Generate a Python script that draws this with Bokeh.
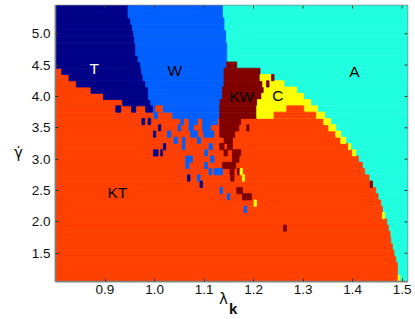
from bokeh.plotting import figure
from bokeh.models import Range1d, FixedTicker, Label, ColumnDataSource, PrintfTickFormatter
from bokeh.core.properties import value
from bokeh.embed import file_html
from bokeh.resources import INLINE

# ---------------- axes ----------------
LAM_MIN, LAM_MAX = 0.80, 1.511
GAM_MIN, GAM_MAX = 1.05, 5.45
x_ticks = [0.9, 1.0, 1.1, 1.2, 1.3, 1.4, 1.5]
y_ticks = [1.5, 2.0, 2.5, 3.0, 3.5, 4.0, 4.5, 5.0]

# ---------------- phases ----------------
phase_colors = {
    "KT": "#FF4000",
    "T": "#000088",
    "W": "#0060FF",
    "KW": "#800000",
    "C": "#FFFF00",
    "A": "#20FFDF",
}

# Each phase region: rows of gamma (cell centres) with the lambda span of the phase in that row
T_gamma = [5.4, 5.3, 5.2, 5.1, 5.0, 4.9, 4.8, 4.7, 4.6, 4.5, 4.4, 4.3, 4.2, 4.1, 4.0, 3.9]
T_lo = [0.80, 0.80, 0.80, 0.80, 0.80, 0.80, 0.80, 0.80, 0.80, 0.80,
        0.8125, 0.8273, 0.8422, 0.8717, 0.8968, 0.9352]
T_hi = [0.9465, 0.9465, 0.9519, 0.9554, 0.9580, 0.9600, 0.9620, 0.9620, 0.9667, 0.9721,
        0.9741, 0.9768, 0.9822, 0.9877, 0.9877, 0.9923]

W_gamma = [5.4, 5.3, 5.2, 5.1, 5.0, 4.9, 4.8, 4.7, 4.6, 4.5, 4.4, 4.3, 4.2, 4.1, 4.0, 3.9, 3.8, 3.7]
W_lo = [0.9465, 0.9465, 0.9519, 0.9554, 0.9580, 0.9600, 0.9620, 0.9620, 0.9667, 0.9721,
        0.9741, 0.9768, 0.9822, 0.9877, 0.9877, 0.9923, 0.9964, 1.0368]
W_hi = [1.1372, 1.1372, 1.1404, 1.1404, 1.1438, 1.1438, 1.1459, 1.1459, 1.1459, 1.1459,
        1.1404, 1.1404, 1.1404, 1.1372, 1.1372, 1.1323, 1.1317, 1.1317]

KW_gamma = [4.5, 4.4, 4.3, 4.2, 4.1, 4.0, 3.9, 3.8, 3.7]
KW_lo = [1.1459, 1.1404, 1.1404, 1.1404, 1.1372, 1.1372, 1.1323, 1.1317, 1.1317]
KW_hi = [1.1661, 1.2131, 1.2131, 1.2186, 1.2212, 1.2166, 1.2079, 1.2065, 1.2065]

C_gamma = [4.3, 4.2, 4.1, 4.0, 3.9, 3.8, 3.7, 3.6, 3.5, 3.4, 3.3, 3.2, 3.1, 2.1, 1.1]
C_lo = [1.2131, 1.2186, 1.2212, 1.2166, 1.2079, 1.2065, 1.2065,
        1.3418, 1.3519, 1.3661, 1.3762, 1.3917, 1.3998, 1.4604, 1.4919]
C_hi = [1.2362, 1.2616, 1.2873, 1.3008, 1.3156, 1.3291, 1.3438,
        1.3560, 1.3661, 1.3762, 1.3863, 1.3964, 1.4065, 1.4650, 1.4954]

KT_gamma = [4.4, 4.3, 4.2, 4.1, 4.0, 3.9, 3.8, 3.7, 3.6, 3.5, 3.4, 3.3, 3.2, 3.1, 3.0,
            2.9, 2.8, 2.7, 2.6, 2.5, 2.4, 2.3, 2.2, 2.1, 2.0, 1.9, 1.8, 1.7, 1.6, 1.5,
            1.4, 1.3, 1.2, 1.1]
KT_hi = [0.8125, 0.8273, 0.8422, 0.8717, 0.8968, 0.9352, 0.9964, 1.0368, 1.3418, 1.3519,
         1.3661, 1.3762, 1.3917, 1.3998, 1.4119, 1.4200, 1.4246, 1.4333, 1.4402, 1.4469,
         1.4515, 1.4570, 1.4604, 1.4604, 1.4691, 1.4725, 1.4758, 1.4772, 1.4806, 1.4838,
         1.4873, 1.4907, 1.4907, 1.4919]
KT_lo = [LAM_MIN] * len(KT_gamma)

A_gamma = [5.4, 5.3, 5.2, 5.1, 5.0, 4.9, 4.8, 4.7, 4.6, 4.5, 4.4, 4.3, 4.2, 4.1, 4.0,
           3.9, 3.8, 3.7, 3.6, 3.5, 3.4, 3.3, 3.2, 3.1, 3.0, 2.9, 2.8, 2.7, 2.6, 2.5,
           2.4, 2.3, 2.2, 2.1, 2.0, 1.9, 1.8, 1.7, 1.6, 1.5, 1.4, 1.3, 1.2, 1.1]
A_lo = [1.1372, 1.1372, 1.1404, 1.1404, 1.1438, 1.1438, 1.1459, 1.1459, 1.1459, 1.1661,
        1.2131, 1.2414, 1.2616, 1.2873, 1.3008, 1.3156, 1.3291, 1.3438, 1.3560, 1.3661,
        1.3762, 1.3863, 1.3964, 1.4065, 1.4119, 1.4200, 1.4246, 1.4333, 1.4402, 1.4469,
        1.4515, 1.4570, 1.4604, 1.4650, 1.4691, 1.4725, 1.4758, 1.4772, 1.4806, 1.4838,
        1.4873, 1.4907, 1.4907, 1.4954]
A_hi = [LAM_MAX] * len(A_gamma)

# Isolated cells (gamma row, lambda span, phase)
cell_gamma = [4.3, 4.2,
              3.8, 3.8, 3.8, 3.8, 3.8,
              3.7, 3.7,
              3.6, 3.6, 3.6, 3.6, 3.6, 3.6,
              3.5, 3.5, 3.5, 3.5, 3.5, 3.5,
              3.4, 3.4, 3.4, 3.4, 3.4,
              3.3, 3.3, 3.3, 3.3,
              3.2, 3.2, 3.2, 3.2, 3.2,
              3.1, 3.1, 3.1, 3.1, 3.1,
              3.0, 3.0, 3.0,
              2.9, 2.9, 2.9,
              2.8, 2.8, 2.8, 2.8, 2.8,
              2.7, 2.7, 2.7, 2.7,
              2.6, 2.6,
              2.5, 2.5,
              2.4, 2.4,
              2.3, 2.2, 1.9]
cell_lo = [1.2362, 1.2261,
           0.9218, 0.9539, 0.9822, 1.0024, 1.2671,
           0.9990, 1.2414,
           0.9745, 0.9869, 1.0529, 1.0697, 1.0968, 1.1317,
           1.0079, 1.0475, 1.0697, 1.0968, 1.1317, 1.1863,
           0.9978, 1.0261, 1.0731, 1.0994, 1.1317,
           1.0394, 1.0564, 1.0867, 1.1404,
           1.0180, 1.0564, 1.1101, 1.1317, 1.1473,
           0.9978, 1.0125, 1.1014, 1.1404, 1.1574,
           1.0630, 1.1135, 1.1574,
           1.0630, 1.1014, 1.1372,
           1.1101, 1.1202, 1.1525, 1.1675, 1.1727,
           1.0665, 1.0867, 1.1539, 1.1776,
           1.0919, 1.4355,
           1.1323, 1.1661,
           1.1473, 1.1776,
           1.2010, 1.1808, 1.2604]
cell_hi = [1.2414, 1.2313,
           0.9319, 0.9620, 0.9958, 1.0160, 1.3014,
           1.0059, 1.3257,
           0.9800, 0.9923, 1.0584, 1.0867, 1.1271, 1.1741,
           1.0125, 1.0529, 1.0790, 1.1135, 1.1701, 1.1909,
           1.0024, 1.0327, 1.0867, 1.1196, 1.1620,
           1.0463, 1.0616, 1.0933, 1.1574,
           1.0226, 1.0616, 1.1170, 1.1404, 1.1574,
           1.0071, 1.0160, 1.1069, 1.1473, 1.1741,
           1.0766, 1.1202, 1.1707,
           1.0697, 1.1069, 1.1640,
           1.1156, 1.1372, 1.1606, 1.1727, 1.1776,
           1.0717, 1.0919, 1.1606, 1.1816,
           1.0968, 1.4402,
           1.1372, 1.1776,
           1.1519, 1.1958,
           1.2059, 1.1863, 1.2665]
cell_phase = ["KW", "KW",
              "T", "T", "T", "KT", "KT",
              "W", "KT",
              "T", "T", "W", "W", "W", "KW",
              "T", "W", "W", "W", "KW", "KW",
              "T", "W", "W", "W", "KW",
              "W", "W", "W", "KW",
              "T", "W", "W", "KW", "KW",
              "T", "T", "W", "KW", "KW",
              "W", "W", "KW",
              "W", "W", "KW",
              "W", "W", "KW", "KW", "C",
              "T", "W", "KW", "C",
              "T", "KW",
              "W", "KW",
              "W", "KW",
              "C", "W", "KW"]

# Region labels
label_text = ["T", "W", "KW", "C", "A", "KT"]
label_x = [0.878, 1.041, 1.176, 1.249, 1.404, 0.925]
label_y = [4.45, 4.41, 4.0, 4.01, 4.40, 2.47]
label_color = ["white", "black", "black", "black", "black", "black"]

ROW_HALF = 0.05
FRAME_W, FRAME_H = 352, 276
TICK_PX = 3

# ---------------- build quads ----------------
left, right, bottom, top, color = [], [], [], [], []

def add(gams, los, his, phases):
    for g, lo, hi, ph in zip(gams, los, his, phases):
        if hi <= lo:
            continue
        left.append(lo)
        right.append(hi)
        bottom.append(g - ROW_HALF)
        top.append(g + ROW_HALF)
        color.append(phase_colors[ph])

add(A_gamma, A_lo, A_hi, ["A"] * len(A_gamma))
add(KT_gamma, KT_lo, KT_hi, ["KT"] * len(KT_gamma))
add(T_gamma, T_lo, T_hi, ["T"] * len(T_gamma))
add(W_gamma, W_lo, W_hi, ["W"] * len(W_gamma))
add(KW_gamma, KW_lo, KW_hi, ["KW"] * len(KW_gamma))
add(C_gamma, C_lo, C_hi, ["C"] * len(C_gamma))
add(cell_gamma, cell_lo, cell_hi, cell_phase)

src = ColumnDataSource(dict(left=left, right=right, bottom=bottom, top=top, color=color))

p = figure(
    frame_width=FRAME_W, frame_height=FRAME_H,
    x_range=Range1d(LAM_MIN, LAM_MAX), y_range=Range1d(GAM_MIN, GAM_MAX),
    output_backend="svg", toolbar_location=None,
    min_border_left=55, min_border_right=8, min_border_top=5, min_border_bottom=38,
)
p.grid.visible = False
p.outline_line_color = "#808080"
p.outline_line_width = 1.5

p.quad(left="left", right="right", bottom="bottom", top="top", source=src,
       fill_color="color", line_color="color", line_width=0.8)

p.text(x=label_x, y=label_y, text=label_text, text_color=label_color,
       text_font=value("Liberation Sans"), text_font_size=value("15.5px"),
       text_align="center", text_baseline="middle")

# inward ticks on top and right edges, at the same tick values
dx = TICK_PX * (LAM_MAX - LAM_MIN) / FRAME_W
dy = TICK_PX * (GAM_MAX - GAM_MIN) / FRAME_H
p.segment(x0=x_ticks, x1=x_ticks, y0=[GAM_MAX] * len(x_ticks), y1=[GAM_MAX - dy] * len(x_ticks),
          line_color="#333333", line_width=1)
p.segment(x0=[LAM_MAX] * len(y_ticks), x1=[LAM_MAX - dx] * len(y_ticks), y0=y_ticks, y1=y_ticks,
          line_color="#333333", line_width=1)

TICK_FONT = "13.5px"
for ax, ticks in ((p.xaxis[0], x_ticks), (p.yaxis[0], y_ticks)):
    ax.ticker = FixedTicker(ticks=ticks)
    ax.formatter = PrintfTickFormatter(format="%.1f")
    ax.minor_tick_line_color = None
    ax.major_tick_in = TICK_PX
    ax.major_tick_out = 0
    ax.major_tick_line_color = "#333333"
    ax.axis_line_color = "#808080"
    ax.axis_line_width = 1.5
    ax.major_label_text_font = "Liberation Sans"
    ax.major_label_text_font_size = TICK_FONT
    ax.major_label_text_color = "#111111"
p.xaxis[0].major_label_standoff = 3
p.yaxis[0].major_label_standoff = 5

# axis titles, placed in the side panels so they are not clipped by the frame
p.add_layout(Label(x=0.7253, y=3.10, text="γ̇", text_font="DejaVu Sans",
                   text_font_size="15px", text_align="center", text_baseline="middle",
                   text_color="#111111"), "left")
p.add_layout(Label(x=1.139, y=0.766, text="λ", text_font="DejaVu Sans",
                   text_font_size="15px", text_align="center", text_baseline="middle",
                   text_color="#111111"), "below")
p.add_layout(Label(x=1.159, y=0.614, text="k", text_font="Liberation Sans",
                   text_font_size="15px", text_font_style="bold", text_align="center",
                   text_baseline="middle", text_color="#111111"), "below")

open("out.html", "w").write(file_html(p, INLINE))
